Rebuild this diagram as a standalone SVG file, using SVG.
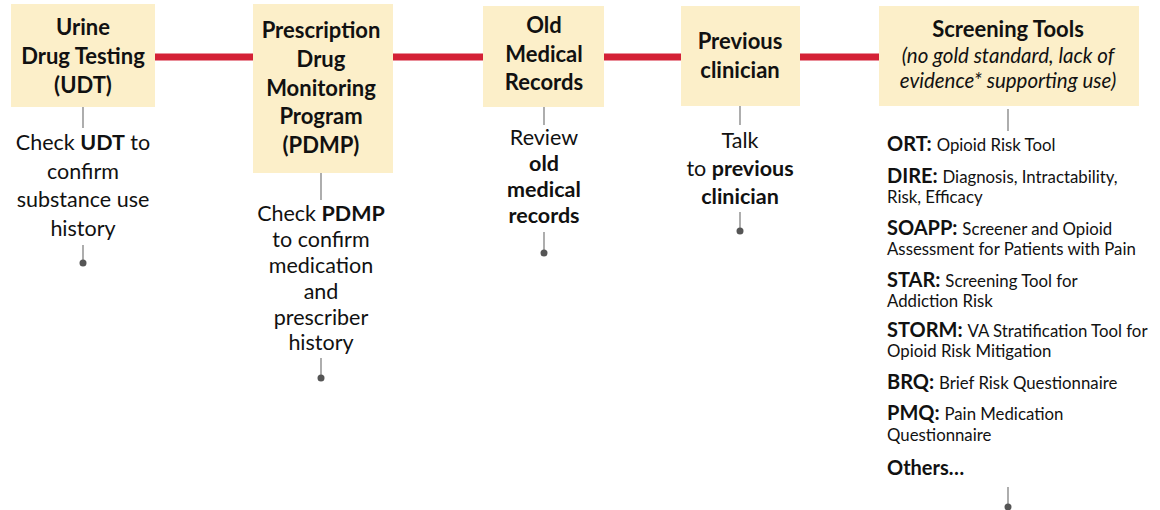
<svg xmlns="http://www.w3.org/2000/svg" width="1160" height="510" viewBox="0 0 1160 510">
<style>
text{font-family:Lato,"Open Sans",sans-serif;fill:#111}
.box{fill:#FCEFC9}
.h{font-size:22px;font-weight:bold;text-anchor:middle}
.hi{font-size:20.5px;font-style:italic;text-anchor:middle}
.b{font-size:21.5px;text-anchor:middle}
.k{font-size:20px;font-weight:bold}
.d{font-size:16.8px;font-weight:normal}
.stem{stroke:#777;stroke-width:1.2}
.red{stroke:#D42136;stroke-width:7}
.dot{fill:#555}
</style>
<g id="connectors">
<line class="red" x1="155" y1="57" x2="253" y2="57"/>
<line class="red" x1="393" y1="57" x2="483" y2="57"/>
<line class="red" x1="604" y1="57" x2="681" y2="57"/>
<line class="red" x1="800" y1="57" x2="879" y2="57"/>
<line class="stem" x1="83" y1="107" x2="83" y2="128"/>
<line class="stem" x1="83" y1="245" x2="83" y2="262"/>
<circle class="dot" cx="83" cy="263" r="3.5"/>
<line class="stem" x1="321" y1="173" x2="321" y2="200"/>
<line class="stem" x1="321" y1="358" x2="321" y2="377"/>
<circle class="dot" cx="321" cy="378" r="3.5"/>
<line class="stem" x1="544" y1="107" x2="544" y2="125"/>
<line class="stem" x1="544" y1="232" x2="544" y2="252"/>
<circle class="dot" cx="544" cy="253" r="3.5"/>
<line class="stem" x1="740" y1="106" x2="740" y2="125"/>
<line class="stem" x1="740" y1="212" x2="740" y2="230"/>
<circle class="dot" cx="740" cy="231" r="3.5"/>
<line class="stem" x1="1008" y1="109" x2="1008" y2="131"/>
<line class="stem" x1="1008" y1="487" x2="1008" y2="506"/>
<circle class="dot" cx="1008" cy="507" r="3.5"/>
</g>
<g id="udt">
<rect class="box" x="11" y="4" width="144" height="103"/>
<text class="h" x="83" y="35">Urine</text>
<text class="h" x="83" y="64">Drug Testing</text>
<text class="h" x="83" y="93">(UDT)</text>
<text class="b" x="83" y="150">Check <tspan font-weight="bold">UDT</tspan> to</text>
<text class="b" x="83" y="179">confirm</text>
<text class="b" x="83" y="207">substance use</text>
<text class="b" x="83" y="236">history</text>
</g>
<g id="pdmp">
<rect class="box" x="253" y="4" width="140" height="169"/>
<text class="h" x="321" y="38">Prescription</text>
<text class="h" x="321" y="67">Drug</text>
<text class="h" x="321" y="96">Monitoring</text>
<text class="h" x="321" y="124">Program</text>
<text class="h" x="321" y="153">(PDMP)</text>
<text class="b" x="321" y="221">Check <tspan font-weight="bold">PDMP</tspan></text>
<text class="b" x="321" y="247">to confirm</text>
<text class="b" x="321" y="273">medication</text>
<text class="b" x="321" y="299">and</text>
<text class="b" x="321" y="325">prescriber</text>
<text class="b" x="321" y="350">history</text>
</g>
<g id="records">
<rect class="box" x="483" y="6" width="121" height="101"/>
<text class="h" x="544" y="33">Old</text>
<text class="h" x="544" y="62">Medical</text>
<text class="h" x="544" y="90">Records</text>
<text class="b" x="544" y="145">Review</text>
<text class="b" x="544" y="171" font-weight="bold">old</text>
<text class="b" x="544" y="197" font-weight="bold">medical</text>
<text class="b" x="544" y="223" font-weight="bold">records</text>
</g>
<g id="clinician">
<rect class="box" x="681" y="6" width="119" height="100"/>
<text class="h" x="740" y="49">Previous</text>
<text class="h" x="740" y="78">clinician</text>
<text class="b" x="740" y="148">Talk</text>
<text class="b" x="740" y="176">to <tspan font-weight="bold">previous</tspan></text>
<text class="b" x="740" y="204" font-weight="bold">clinician</text>
</g>
<g id="screening">
<rect class="box" x="879" y="6" width="260" height="100"/>
<text class="h" x="1008" y="37">Screening Tools</text>
<text class="hi" x="1008" y="63">(no gold standard, lack of</text>
<text class="hi" x="1008" y="88">evidence* supporting use)</text>
<text class="k" x="887" y="151">ORT: <tspan class="d">Opioid Risk Tool</tspan></text>
<text class="k" x="887" y="183">DIRE: <tspan class="d">Diagnosis, Intractability,</tspan></text>
<text class="d" x="887" y="203">Risk, Efficacy</text>
<text class="k" x="887" y="235">SOAPP: <tspan class="d">Screener and Opioid</tspan></text>
<text class="d" x="887" y="255">Assessment for Patients with Pain</text>
<text class="k" x="887" y="287">STAR: <tspan class="d">Screening Tool for</tspan></text>
<text class="d" x="887" y="307">Addiction Risk</text>
<text class="k" x="887" y="337">STORM: <tspan class="d">VA Stratification Tool for</tspan></text>
<text class="d" x="887" y="357">Opioid Risk Mitigation</text>
<text class="k" x="887" y="389">BRQ: <tspan class="d">Brief Risk Questionnaire</tspan></text>
<text class="k" x="887" y="420">PMQ: <tspan class="d">Pain Medication</tspan></text>
<text class="d" x="887" y="441">Questionnaire</text>
<text class="k" x="887" y="475" font-size="25">Others…</text>
</g>
</svg>
